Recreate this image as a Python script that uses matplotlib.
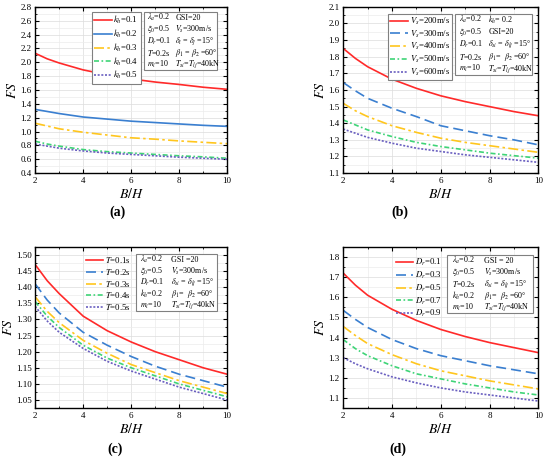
import matplotlib
matplotlib.use("Agg")
import matplotlib.pyplot as plt
from matplotlib.patches import Rectangle
from matplotlib.ticker import MultipleLocator

plt.rcParams["font.family"] = ["Liberation Serif", "DejaVu Serif"]
plt.rcParams["mathtext.fontset"] = "stix"

# values
bh = [2, 2.5, 3, 4, 5, 6, 7, 8, 9, 10]

fs_kh = [
    [2.13, 2.05, 1.99, 1.89, 1.82, 1.76, 1.715, 1.68, 1.64, 1.61],
    [1.32, 1.29, 1.26, 1.21, 1.18, 1.15, 1.13, 1.11, 1.09, 1.075],
    [1.12, 1.08, 1.04, 0.99, 0.95, 0.91, 0.89, 0.865, 0.845, 0.825],
    [0.86, 0.82, 0.79, 0.74, 0.71, 0.69, 0.67, 0.65, 0.635, 0.615],
    [0.82, 0.79, 0.76, 0.72, 0.69, 0.67, 0.65, 0.63, 0.615, 0.60],
]
fs_vs = [
    [1.85, 1.79, 1.74, 1.665, 1.61, 1.565, 1.53, 1.50, 1.47, 1.445],
    [1.645, 1.595, 1.55, 1.49, 1.44, 1.385, 1.355, 1.325, 1.30, 1.27],
    [1.52, 1.475, 1.44, 1.385, 1.345, 1.31, 1.285, 1.265, 1.245, 1.225],
    [1.42, 1.39, 1.36, 1.32, 1.285, 1.26, 1.24, 1.22, 1.205, 1.19],
    [1.365, 1.34, 1.315, 1.28, 1.25, 1.23, 1.21, 1.195, 1.18, 1.165],
]
fs_t = [
    [1.47, 1.42, 1.38, 1.31, 1.265, 1.23, 1.20, 1.175, 1.15, 1.13],
    [1.41, 1.36, 1.32, 1.26, 1.22, 1.185, 1.155, 1.13, 1.11, 1.09],
    [1.37, 1.325, 1.29, 1.235, 1.195, 1.16, 1.135, 1.11, 1.09, 1.07],
    [1.355, 1.31, 1.275, 1.22, 1.18, 1.15, 1.125, 1.10, 1.08, 1.06],
    [1.34, 1.295, 1.26, 1.21, 1.17, 1.14, 1.115, 1.09, 1.07, 1.05],
]
fs_dr = [
    [1.72, 1.66, 1.61, 1.54, 1.485, 1.44, 1.405, 1.375, 1.35, 1.325],
    [1.535, 1.49, 1.45, 1.39, 1.345, 1.31, 1.285, 1.26, 1.24, 1.22],
    [1.455, 1.41, 1.37, 1.315, 1.27, 1.235, 1.21, 1.185, 1.165, 1.145],
    [1.39, 1.345, 1.31, 1.26, 1.22, 1.195, 1.17, 1.15, 1.13, 1.115],
    [1.30, 1.27, 1.245, 1.205, 1.175, 1.15, 1.13, 1.115, 1.10, 1.085],
]

labels_kh = [r"$k_h$=0.1", r"$k_h$=0.2", r"$k_h$=0.3", r"$k_h$=0.4", r"$k_h$=0.5"]
labels_vs = [r"$V_s$=200m/s", r"$V_s$=300m/s", r"$V_s$=400m/s", r"$V_s$=500m/s", r"$V_s$=600m/s"]
labels_t = [r"$T$=0.1s", r"$T$=0.2s", r"$T$=0.3s", r"$T$=0.4s", r"$T$=0.5s"]
labels_dr = [r"$D_r$=0.1", r"$D_r$=0.3", r"$D_r$=0.5", r"$D_r$=0.7", r"$D_r$=0.9"]

params_a = [
    (r"$\lambda_a$=0.2", "GSI=20"),
    (r"$\xi_0$=0.5", r"$V_s$=300m/s"),
    (r"$D_r$=0.1", r"$\delta_i$ = $\delta_j$ =15°"),
    (r"$T$=0.2s", r"$\beta_1$ = $\beta_2$ =60°"),
    (r"$m_i$=10", r"$T_{si}$=$T_{lj}$=40kN"),
]
params_b = [
    (r"$\lambda_a$=0.2", r"$k_h$= 0.2"),
    (r"$\xi_0$=0.5", "GSI=20"),
    (r"$D_r$=0.1", r"$\delta_{si}$ = $\delta_{lj}$ =15°"),
    (r"$T$=0.2s", r"$\beta_1$=  $\beta_2$ =60°"),
    (r"$m_i$=10", r"$T_{si}$=$T_{lj}$=40kN"),
]
params_c = [
    (r"$\lambda_a$=0.2", "GSI =20"),
    (r"$\xi_0$=0.5", r"$V_s$=300m/s"),
    (r"$D_r$=0.1", r"$\delta_{si}$ = $\delta_{lj}$ =15°"),
    (r"$k_h$=0.2", r"$\beta_1$=  $\beta_2$ =60°"),
    (r"$m_i$=10", r"$T_{si}$=$T_{lj}$=40kN"),
]
params_d = [
    (r"$\lambda_a$=0.2", "GSI = 20"),
    (r"$\xi_0$=0.5", r"$V_s$=300m/s"),
    (r"$T$=0.2s", r"$\delta_{si}$ = $\delta_{lj}$ =15°"),
    (r"$k_h$=0.2", r"$\beta_1$=  $\beta_2$ =60°"),
    (r"$m_i$=10", r"$T_{si}$=$T_{lj}$=40kN"),
]

colors = ["#ff2a2a", "#3a7fd0", "#ffc61e", "#3fd477", "#6a5fc0"]
styles_a = ["-", "-", (0, (6, 2, 1.5, 2)), (0, (3, 1.5, 1, 1.5)), (0, (1.2, 1))]
styles = ["-", (0, (6, 3)), (0, (6, 2, 1.5, 2)), (0, (3, 1.5, 1, 1.5)), (0, (1.2, 1))]


def draw_panel(ax, series, labels, line_styles, params, ylim, ymaj, ymin,
               leg_box, par_box, leg_frame, ytick_fmt):
    for ys, lab, col, ls in zip(series, labels, colors, line_styles):
        ax.plot(bh, ys, color=col, ls=ls, lw=1.2, label=lab)
    ax.set_xlim(2, 10)
    ax.set_ylim(*ylim)
    ax.xaxis.set_major_locator(MultipleLocator(2))
    ax.xaxis.set_minor_locator(MultipleLocator(1))
    ax.yaxis.set_major_locator(MultipleLocator(ymaj))
    ax.yaxis.set_minor_locator(MultipleLocator(ymin))
    ax.yaxis.set_major_formatter(ytick_fmt)
    ax.grid(which="major", color="#dcdcdc", lw=0.5)
    ax.grid(which="minor", color="#ececec", lw=0.5)
    ax.set_axisbelow(True)
    ax.tick_params(which="both", direction="in", top=True, right=True,
                   labelsize=6.5, pad=2.5)
    ax.tick_params(which="major", length=3)
    ax.tick_params(which="minor", length=1.5)
    for sp in ax.spines.values():
        sp.set_linewidth(1.0)
    ax.set_xlabel(r"$B/H$", fontsize=10, labelpad=2)
    ax.set_ylabel(r"$FS$", fontsize=10, labelpad=1)

    lx0, lx1, ly1 = leg_box
    leg = ax.legend(loc="upper right", bbox_to_anchor=(lx1, ly1), fontsize=6.3,
                    frameon=leg_frame, fancybox=False, handlelength=2.0,
                    handletextpad=0.2, labelspacing=0.18, borderpad=0.25,
                    borderaxespad=0)
    if leg_frame:
        leg.get_frame().set_edgecolor("#808080")
        leg.get_frame().set_linewidth(0.8)
        leg.get_frame().set_alpha(1)

    px0, px1, py0, py1 = par_box
    ax.add_patch(Rectangle((px0, py0), px1 - px0, py1 - py0, transform=ax.transAxes,
                           facecolor="white", edgecolor="#808080", lw=0.8, zorder=5))
    n = len(params)
    w = px1 - px0
    for i, (left, right) in enumerate(params):
        yy = py1 - (i + 0.5) * (py1 - py0) / n
        ax.text(px0 + 0.05 * w, yy, left, transform=ax.transAxes, fontsize=5.8,
                va="center", ha="left", zorder=6)
        ax.text(px0 + 0.43 * w, yy, right, transform=ax.transAxes, fontsize=5.8,
                va="center", ha="left", zorder=6)


fig = plt.figure(figsize=(5.5, 4.58), dpi=100)
ax_a = fig.add_axes([0.064, 0.622, 0.349, 0.363])
ax_b = fig.add_axes([0.624, 0.622, 0.355, 0.363])
ax_c = fig.add_axes([0.064, 0.109, 0.349, 0.352])
ax_d = fig.add_axes([0.624, 0.109, 0.355, 0.352])

draw_panel(ax_a, fs_kh, labels_kh, styles_a, params_a, (0.4, 2.8), 0.2, 0.1,
           (0.316, 0.549, 0.97), (0.565, 0.948, 0.62, 0.97), True, "{x:.1f}")
draw_panel(ax_b, fs_vs, labels_vs, styles, params_b, (1.1, 2.1), 0.1, 0.05,
           (0.267, 0.559, 0.96), (0.574, 0.969, 0.59, 0.96), True, "{x:.1f}")
draw_panel(ax_c, fs_t, labels_t, styles, params_c, (1.025, 1.525), 0.05, 0.025,
           (0.28, 0.508, 0.96), (0.523, 0.948, 0.60, 0.957), False, "{x:.2f}")
draw_panel(ax_d, fs_dr, labels_dr, styles, params_d, (1.05, 1.85), 0.1, 0.05,
           (0.3, 0.515, 0.95), (0.533, 0.97, 0.59, 0.95), False, "{x:.1f}")

for txt, x, y in [("(a)", 117, 212), ("(b)", 400, 212), ("(c)", 115, 449), ("(d)", 398, 449)]:
    fig.text(x / 550, 1 - y / 458, txt, ha="center", va="center", fontsize=10,
             fontweight="bold")

fig.savefig("out.png", dpi=100)
